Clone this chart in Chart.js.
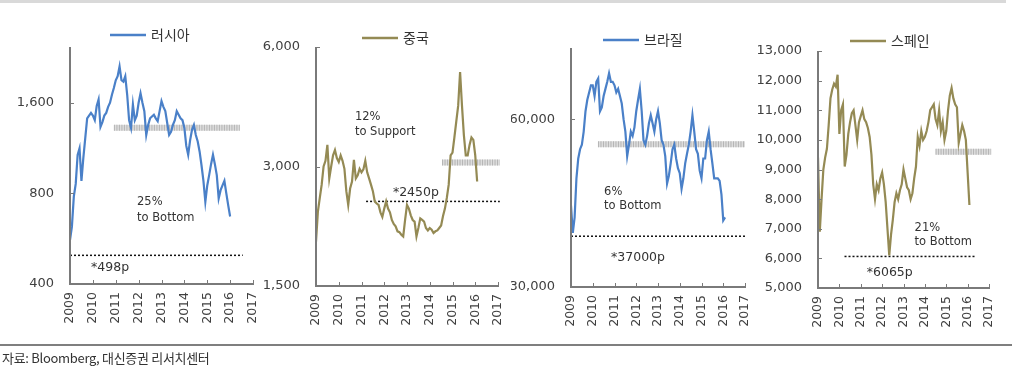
<!DOCTYPE html>
<html>
<head>
<meta charset="utf-8">
<script src="https://cdn.jsdelivr.net/npm/chart.js@4.4.1/dist/chart.umd.min.js"></script>
<style>
  body { margin: 0; background: #fff; width: 1012px; height: 376px; overflow: hidden; position: relative; }
  canvas { position: absolute; left: 0; top: 0; }
  #topbar { position: absolute; left: 0; top: 0; width: 1006px; height: 3px; background: #d9d9d9; }
  #rule { position: absolute; left: 0; top: 344px; width: 1012px; height: 2px; background: #7f7f7f; }
  #src { position: absolute; left: 2px; top: 348px; font: 13px "Noto Sans CJK KR", sans-serif; color: #333; letter-spacing: -0.3px; }
</style>
</head>
<body>
<div id="topbar"></div>
<canvas id="c1" width="1012" height="376"></canvas>
<canvas id="c2" width="1012" height="376"></canvas>
<canvas id="c3" width="1012" height="376"></canvas>
<canvas id="c4" width="1012" height="376"></canvas>
<div id="rule"></div>
<div id="src">자료: Bloomberg, 대신증권 리서치센터</div>
<script>
// 월별 날짜 (2009.01 ~ 2016.02)
const months = [];
for (let i = 0; i < 86; i++) months.push(2009 + i / 12);

const names = ['러시아', '중국', '브라질', '스페인'];

// 러시아 (RTS)
const russia = [
  560, 620, 780, 860, 1074, 1130, 880, 1050, 1220, 1420, 1450, 1480,
  1450, 1400, 1560, 1640, 1330, 1380, 1450, 1480, 1550, 1600, 1700, 1790,
  1900, 1960, 2112, 1900, 1880, 1960, 1700, 1400, 1320, 1580, 1400, 1450,
  1600, 1720, 1600, 1500, 1250, 1350, 1420, 1440, 1460, 1420, 1390, 1500,
  1620, 1550, 1500, 1370, 1250, 1280, 1350, 1400, 1500, 1460, 1420, 1400,
  1320, 1150, 1075, 1200, 1300, 1350, 1250, 1190, 1100, 990, 880, 750,
  850, 920, 1000, 1075, 1000, 920, 770, 820, 850, 880, 800, 730,
  670
];
// 중국 (상해종합)
const china = [
  1940, 2310, 2500, 2700, 3000, 3100, 3400, 2800, 3000, 3200, 3300, 3150,
  3080, 3200, 3100, 2960, 2600, 2400, 2640, 2750, 3120, 2800, 2850, 2960,
  2900, 2950, 3100, 2900, 2800, 2700, 2600, 2450, 2420, 2400, 2300, 2240,
  2350, 2450, 2350, 2300, 2200, 2150, 2120, 2060, 2050, 2020, 2000, 2200,
  2400, 2350, 2260, 2200, 2180, 2000, 2100, 2220, 2200, 2180, 2100, 2070,
  2100, 2080, 2040, 2060, 2070, 2100, 2130, 2250, 2350, 2500, 2700, 3200,
  3250, 3550, 3900, 4270, 5190, 4270, 3600, 3200, 3200, 3400, 3550, 3500,
  3200, 2750
];
// 브라질 (Bovespa)
const brazil = [
  42000, 37500, 40000, 47000, 51000, 53000, 54000, 57000, 62000, 65000, 67000, 69000,
  69000, 66000, 70000, 71000, 62000, 63000, 66000, 68000, 70000, 72500, 70000, 70000,
  69000, 67000, 68000, 66000, 64000, 60000, 57000, 51500, 54000, 57000, 56000, 58000,
  62000, 65000, 68000, 62000, 55000, 54000, 56000, 59000, 61000, 59000, 57000, 60000,
  62000, 59000, 55000, 54000, 51500, 46000, 47500, 50000, 53000, 54000, 51000, 49000,
  48000, 45000, 47000, 50000, 52000, 54000, 57000, 61000, 57000, 53000, 52000, 48500,
  47000, 51000, 51000, 55000, 57000, 53000, 50000, 47000, 47000, 47000, 46500, 44000,
  39500, 40000
];
// 스페인 (IBEX35)
const spain = [
  9400, 6900, 8000, 9000, 9400, 9700, 10500, 11400, 11700, 11900, 11800, 12200,
  10200, 11000, 11200, 9100, 9500, 10200, 10600, 10900, 11000, 10500, 10000, 10600,
  10800, 11000, 10700, 10600, 10400, 10100, 9500, 8500, 8000, 8500, 8300, 8700,
  8900, 8500, 7900, 7000, 6100, 6800, 7300, 7900, 8200, 8000, 8300, 8500,
  9000, 8700, 8400, 8300, 8000, 8200, 8700, 9100, 10100, 9800, 10300, 10000,
  10100, 10300, 10600, 11000, 11100, 11200, 10700, 10500, 11000, 10300, 10600, 10000,
  10300, 11000, 11500, 11750, 11400, 11200, 11100, 9900, 10200, 10500, 10300, 10000,
  8900, 7800
];

// 바닥(점선)과 지지선(음영) 수준
const bottomLevels = [498, 2450, 37000, 6065];
const supportLevels = [1320, 3070, 54100, 9600];
const yTicks = [[400, 800, 1600], [1500, 3000, 6000], [30000, 60000],
  [5000, 6000, 7000, 8000, 9000, 10000, 11000, 12000, 13000]];

const BLUE = '#4a80c8';
const OLIVE = '#948a54';

const panels = [
  { id: 'c1', values: russia, color: BLUE, area: { left: 70, top: 47, right: 253, bottom: 284 },
    type: 'logarithmic', min: 400, max: 2450, legend: [110, 35],
    floorSpan: [2009, 2016.55], bandSpan: [2010.92, 2016.42],
    notes: [
      { text: '25%', x: 2011.93, y: 750, size: 11.5 },
      { text: 'to Bottom', x: 2011.93, y: 663, size: 11.5 },
      { text: '*498p', x: 2009.92, y: 452, size: 12.5 }
    ] },
  { id: 'c2', values: china, color: OLIVE, area: { left: 316, top: 47, right: 498, bottom: 286 },
    type: 'logarithmic', min: 1500, max: 6000, legend: [362, 38],
    floorSpan: [2011.2, 2017.08], bandSpan: [2014.54, 2017.08],
    notes: [
      { text: '12%', x: 2010.71, y: 3998, size: 11.5 },
      { text: 'to Support', x: 2010.71, y: 3665, size: 11.5 },
      { text: '*2450p', x: 2012.38, y: 2574, size: 12.5 }
    ] },
  { id: 'c3', values: brazil, color: BLUE, area: { left: 571, top: 48, right: 745, bottom: 287 },
    type: 'logarithmic', min: 30000, max: 80500, legend: [603, 40],
    floorSpan: [2009, 2017], bandSpan: [2010.24, 2017],
    notes: [
      { text: '6%', x: 2010.52, y: 44400, size: 11.5 },
      { text: 'to Bottom', x: 2010.52, y: 41900, size: 11.5 },
      { text: '*37000p', x: 2010.84, y: 33800, size: 12.5 }
    ] },
  { id: 'c4', values: spain, color: OLIVE, area: { left: 818, top: 51, right: 993, bottom: 288 },
    type: 'linear', min: 5000, max: 13000, legend: [850, 41],
    floorSpan: [2010.24, 2016.39], bandSpan: [2014.5, 2017.1],
    notes: [
      { text: '21%', x: 2013.52, y: 7027, size: 11.5 },
      { text: 'to Bottom', x: 2013.52, y: 6554, size: 11.5 },
      { text: '*6065p', x: 2011.28, y: 5507, size: 12.5 }
    ] }
];

// 축선, 안쪽 눈금, 메모, 범례
const decor = {
  id: 'decor',
  afterDatasetsDraw(chart, args, opts) {
    const { ctx, chartArea: a, scales: { x, y } } = chart;
    ctx.save();
    ctx.strokeStyle = '#7a7a7a';
    ctx.lineWidth = 2;
    ctx.beginPath();
    ctx.moveTo(a.left, a.top);
    ctx.lineTo(a.left, a.bottom);
    ctx.lineTo(a.right + 1, a.bottom);
    ctx.stroke();
    ctx.lineWidth = 1;
    x.ticks.forEach(t => {
      const px = Math.round(x.getPixelForValue(t.value)) + 0.5;
      ctx.beginPath(); ctx.moveTo(px, a.bottom); ctx.lineTo(px, a.bottom - 4); ctx.stroke();
    });
    y.ticks.forEach(t => {
      const py = Math.round(y.getPixelForValue(t.value)) + 0.5;
      ctx.beginPath(); ctx.moveTo(a.left, py); ctx.lineTo(a.left + 4, py); ctx.stroke();
    });
    ctx.fillStyle = '#333';
    ctx.textBaseline = 'middle';
    ctx.textAlign = 'left';
    opts.notes.forEach(n => {
      ctx.font = n.size + 'px "DejaVu Sans"';
      ctx.fillText(n.text, x.getPixelForValue(n.x), y.getPixelForValue(n.y));
    });
    const [lx, ly] = opts.legend;
    ctx.strokeStyle = opts.color;
    ctx.lineWidth = 2.5;
    ctx.beginPath(); ctx.moveTo(lx, ly); ctx.lineTo(lx + 36, ly); ctx.stroke();
    ctx.font = '14px "Noto Sans CJK KR"';
    ctx.fillText(opts.name, lx + 41, ly);
    ctx.restore();
  }
};

panels.forEach((p, k) => {
  const series = p.values.map((v, i) => ({ x: months[i], y: v }));
  const floor = p.floorSpan.map(d => ({ x: d, y: bottomLevels[k] }));
  const band = p.bandSpan.map(d => ({ x: d, y: supportLevels[k] }));
  const yOpts = {
    type: p.type, min: p.min, max: p.max,
    afterFit: s => { s.width = 60; },
    grid: { display: false, drawTicks: false },
    border: { display: false },
    ticks: {
      padding: 16, color: '#404040', font: { family: 'DejaVu Sans', size: 13 },
      callback: v => Number(v).toLocaleString('en-US')
    }
  };
  if (p.type === 'logarithmic') {
    yOpts.afterBuildTicks = s => { s.ticks = yTicks[k].map(v => ({ value: v })); };
  } else {
    yOpts.ticks.stepSize = 1000;
  }

  new Chart(document.getElementById(p.id), {
    type: 'line',
    data: {
      datasets: [
        { label: names[k], data: series, borderColor: p.color, borderWidth: 2.2,
          pointRadius: 0, tension: 0, order: 0 },
        { data: floor, borderColor: '#111', borderWidth: 1.5, borderDash: [2, 2],
          pointRadius: 0, clip: false, order: 1 },
        { data: band, borderColor: '#dddddd', borderWidth: 6,
          pointRadius: 0, clip: false, order: 3 },
        { data: band, borderColor: '#b5b5b5', borderWidth: 6, borderDash: [1, 1.5],
          pointRadius: 0, clip: false, order: 2 }
      ]
    },
    options: {
      responsive: false,
      animation: false,
      events: [],
      layout: {
        padding: {
          left: p.area.left - 60,
          top: p.area.top,
          right: 1012 - p.area.right,
          bottom: 376 - 40 - p.area.bottom
        }
      },
      scales: {
        x: {
          type: 'linear', min: 2009, max: 2017,
          afterFit: s => { s.height = 40; },
          grid: { display: false, drawTicks: false },
          border: { display: false },
          ticks: {
            stepSize: 1, autoSkip: false, minRotation: 90, maxRotation: 90, padding: 8,
            color: '#404040', font: { family: 'DejaVu Sans', size: 12.5 },
            callback: v => String(v)
          }
        },
        y: yOpts
      },
      plugins: {
        legend: { display: false },
        tooltip: { enabled: false },
        decor: { notes: p.notes, legend: p.legend, color: p.color, name: names[k] }
      }
    },
    plugins: [decor]
  });
});
</script>
</body>
</html>
